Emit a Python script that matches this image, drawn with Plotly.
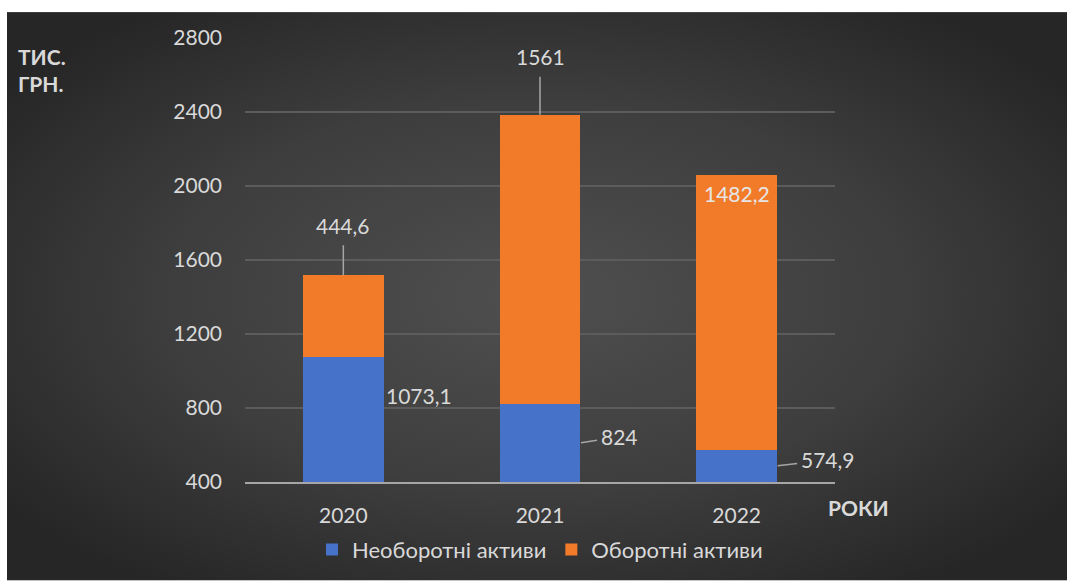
import urllib.parse
import plotly.graph_objects as go

# Data
years = ["2020", "2021", "2022"]
non_current = [1073.1, 824.0, 574.9]      # Необоротні активи
current = [444.6, 1561.0, 1482.2]          # Оборотні активи
non_current_labels = ["1073,1", "824", "574,9"]
current_labels = ["444,6", "1561", "1482,2"]
y_ticks = [400, 800, 1200, 1600, 2000, 2400, 2800]

W, H = 1067, 583
L, R, T, B = 245, 232, 38, 99
PW, PH = W - L - R, H - T - B

TXT = "#d9d9d9"
FONT = "Lato, 'Noto Sans', sans-serif"
FS = 21

fig = go.Figure()
fig.add_bar(x=years, y=non_current, name="Необоротні активи",
            marker=dict(color="#4673C9", line=dict(width=0)))
fig.add_bar(x=years, y=current, name="Оборотні активи",
            marker=dict(color="#F27B2A", line=dict(width=0)))

# dark radial-gradient chart area
svg = ('<svg xmlns="http://www.w3.org/2000/svg" width="1060" height="571" '
       'viewBox="0 0 1060 571" preserveAspectRatio="none">'
       '<defs><radialGradient id="g" cx="0.5" cy="0.5" r="0.62">'
       '<stop offset="0" stop-color="#4f4f4f"/>'
       '<stop offset="0.55" stop-color="#3e3e3e"/>'
       '<stop offset="1" stop-color="#262626"/></radialGradient></defs>'
       '<rect width="1060" height="571" fill="url(#g)"/></svg>')
bg_src = "data:image/svg+xml;charset=utf-8," + urllib.parse.quote(svg)
px0, py0 = 7, 12
fig.add_layout_image(
    source=bg_src, xref="paper", yref="paper",
    x=(px0 - L) / PW, y=1 + (T - py0) / PH,
    sizex=(W - px0) / PW, sizey=(H - py0) / PH,
    xanchor="left", yanchor="top", sizing="stretch", layer="below")

ann = []
lbl_font = dict(family=FONT, size=FS, color=TXT)
tops = [a + b for a, b in zip(non_current, current)]
y0 = y_ticks[0]
arrow = dict(showarrow=True, arrowhead=0, arrowwidth=1.5, arrowcolor="#a6a6a6")

# labels for the current-assets (top) segments; x given as category index
ann.append(dict(x=0, y=tops[0], text=current_labels[0], ax=0, ay=-50,
                startstandoff=6, font=lbl_font, **arrow))
ann.append(dict(x=1, y=tops[1], text=current_labels[1], ax=0, ay=-58,
                startstandoff=6, font=lbl_font, **arrow))
ann.append(dict(x=2, y=tops[2], text=current_labels[2], showarrow=False,
                yanchor="top", yshift=-4, font=dict(family=FONT, size=FS, color="#e6e6e6")))

# labels for the non-current (bottom) segments
ann.append(dict(x=0, y=(y0 + non_current[0]) / 2, text=non_current_labels[0],
                showarrow=False, xshift=76, yshift=24, font=lbl_font))
ann.append(dict(x=1, y=(y0 + non_current[1]) / 2, text=non_current_labels[1],
                xshift=41, ax=38, ay=-6, startstandoff=2, font=lbl_font, **arrow))
ann.append(dict(x=2, y=(y0 + non_current[2]) / 2, text=non_current_labels[2],
                xshift=41, ax=50, ay=-6, startstandoff=2, font=lbl_font, **arrow))

# axis titles
ann.append(dict(xref="paper", yref="paper", x=(16 - L) / PW, y=1 - (42 - T) / PH,
                xanchor="left", yanchor="top", align="left", showarrow=False,
                text="<b>ТИС.<br>ГРН.</b>",
                font=dict(family=FONT, size=FS, color=TXT)))
ann.append(dict(xref="paper", yref="paper", x=(826 - L) / PW, y=-(510 - (T + PH)) / PH,
                xanchor="left", yanchor="middle", showarrow=False,
                text="<b>РОКИ</b>", font=dict(family=FONT, size=FS, color=TXT)))

fig.update_layout(
    width=W, height=H,
    margin=dict(l=L, r=R, t=T, b=B, pad=0),
    paper_bgcolor="white", plot_bgcolor="rgba(0,0,0,0)",
    barmode="stack", bargap=0.59,
    font=dict(family=FONT, size=FS, color=TXT),
    showlegend=True,
    legend=dict(orientation="h", x=0.5, xanchor="center",
                y=-(552 - (T + PH)) / PH, yanchor="middle",
                font=dict(family=FONT, size=22, color=TXT),
                itemwidth=30, traceorder="normal", bgcolor="rgba(0,0,0,0)"),
    annotations=ann,
)
fig.update_xaxes(type="category", range=[-0.5, len(years) - 0.5],
                 showgrid=False, showline=True, linecolor="#a6a6a6",
                 linewidth=2, ticks="", ticklabelstandoff=14,
                 tickfont=dict(size=FS, color=TXT))
fig.update_yaxes(range=[y_ticks[0], y_ticks[-1]], tickvals=y_ticks,
                 showgrid=True, gridcolor="#5c5c5c", gridwidth=1.5,
                 zeroline=False, showline=False, ticks="",
                 ticklabelstandoff=22, tickfont=dict(size=FS, color=TXT))

fig.write_html("out.html")
